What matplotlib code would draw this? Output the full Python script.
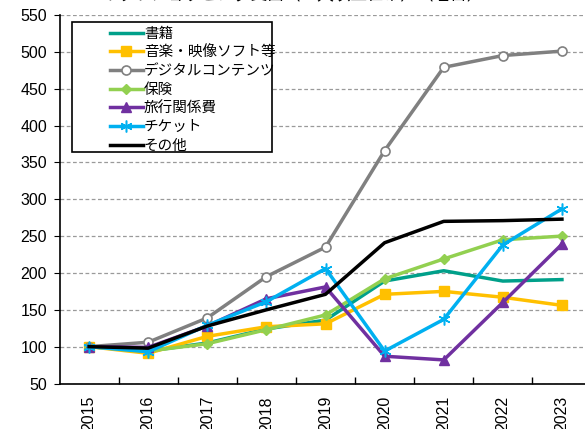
import matplotlib
matplotlib.use('Agg')
import matplotlib.pyplot as plt
from matplotlib.patches import Rectangle

plt.rcParams['font.family'] = ['Noto Sans CJK JP', 'DejaVu Sans']

years = ['2015', '2016', '2017', '2018', '2019', '2020', '2021', '2022', '2023']

books = [100, 94, 105, 124, 136, 189, 203, 189, 191]
music_video = [100, 91, 114, 127, 131, 171, 175, 167, 156]
digital = [100, 106, 139, 195, 235, 366, 479, 495, 501]
insurance = [100, 94, 104, 123, 143, 192, 219, 245, 250]
travel = [100, 99, 128, 165, 181, 87, 82, 160, 239]
tickets = [100, 93, 129, 161, 206, 94, 137, 238, 287]
other = [100, 98, 128, 150, 171, 241, 270, 271, 273]

series_names = ['書籍', '音楽・映像ソフト等', 'デジタルコンテンツ', '保険', '旅行関係費', 'チケット', 'その他']

fig = plt.figure(figsize=(5.85, 4.29), dpi=100)
W, H = 585, 429
ax = fig.add_axes([59.5 / W, 1 - 383.5 / H, 532 / W, (383.5 - 15) / H])

x = list(range(len(years)))
lw = 2.5
ax.plot(x, books, color='#00A08A', lw=lw, label=series_names[0])
ax.plot(x, music_video, color='#FFC000', lw=lw, marker='s', ms=7, label=series_names[1])
ax.plot(x, digital, color='#808080', lw=lw, marker='o', ms=6.5, mfc='white', mec='#808080', mew=1.2,
        label=series_names[2])
ax.plot(x, insurance, color='#92D050', lw=lw, marker='D', ms=5.5, label=series_names[3])
ax.plot(x, travel, color='#7030A0', lw=lw, marker='^', ms=7.5, label=series_names[4])
ax.plot(x, tickets, color='#00B0F0', lw=lw, marker=(6, 2, 0), ms=8.5, mew=1.1, label=series_names[5])
ax.plot(x, other, color='black', lw=lw, label=series_names[6])

ax.set_xlim(-0.5, 8.5)
ax.set_ylim(50, 550)
ax.set_yticks(range(50, 551, 50))
ax.yaxis.grid(True, linestyle=(0, (3, 2)), color='#9a9a9a', lw=0.9)
ax.set_axisbelow(True)

ax.set_xticks(x)
ax.set_xticklabels(years, rotation=90, family=['Liberation Sans'], fontsize=11.5)
ax.tick_params(axis='x', which='major', length=0, pad=9)
ax.set_xticks([i + 0.5 for i in x[:-1]], minor=True)
ax.tick_params(axis='x', which='minor', direction='in', length=5, width=1)
for lbl in ax.get_yticklabels():
    lbl.set_family(['Liberation Sans'])
ax.tick_params(axis='y', labelsize=11.5, length=4, direction='out', pad=5)

for s in ['top', 'right']:
    ax.spines[s].set_visible(False)
for s in ['left', 'bottom']:
    ax.spines[s].set_linewidth(1.2)

# legend with its own frame (extra padding on the left)
box = Rectangle((72 / W, 1 - 152 / H), 200 / W, 130 / H, transform=fig.transFigure,
                facecolor='white', edgecolor='black', lw=1.2, zorder=4)
ax.add_patch(box)
box.set_clip_on(False)
leg = ax.legend(loc='upper left', bbox_to_anchor=(98 / W, 1 - 15 / H), bbox_transform=fig.transFigure,
                frameon=False, fontsize=10.5, handlelength=2.3, handletextpad=0.05,
                labelspacing=0.32, borderpad=0.3)
leg.set_zorder(5)

# title, mostly cut off at the top edge
fig.text(0.5, 1 + 5.5 / H, 'ネットショッピング支出（二人以上世帯）（名目）', ha='center', va='center', fontsize=12)

fig.savefig('out.png', dpi=100)
